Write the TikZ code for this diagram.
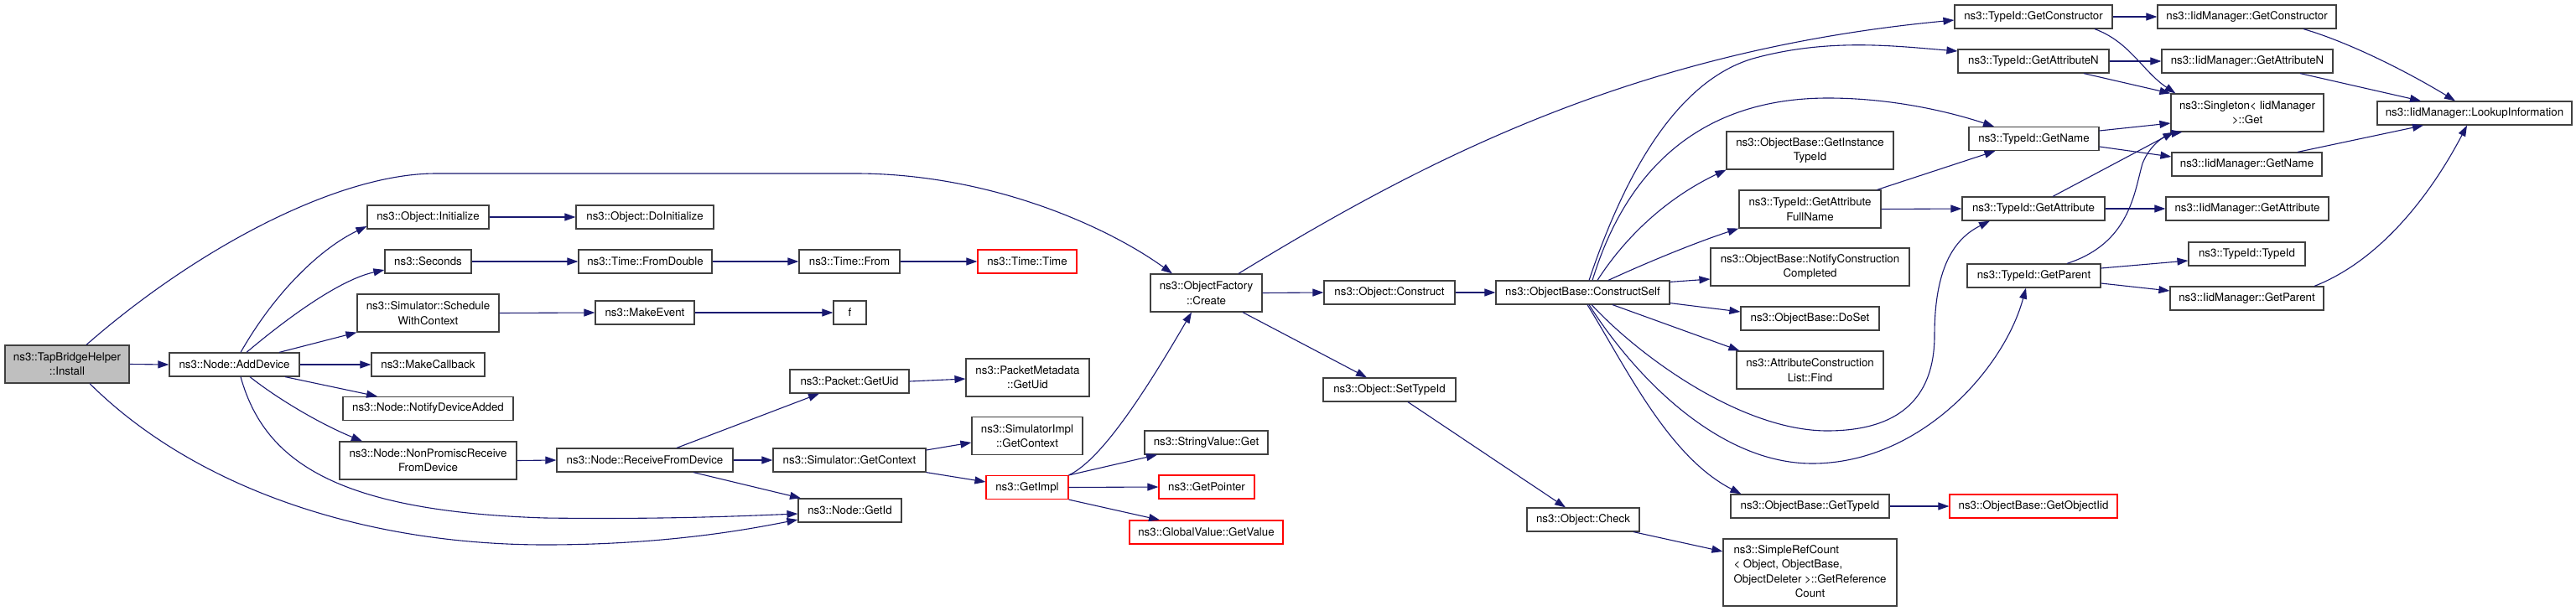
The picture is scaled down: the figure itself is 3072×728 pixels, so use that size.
\documentclass[tikz,border=0pt]{standalone}
\usepackage{fontspec}
\setmainfont{TeX Gyre Heros}
\usetikzlibrary{arrows.meta,calc}
\definecolor{edgeblue}{HTML}{191970}
\definecolor{nodegray}{HTML}{404040}
\definecolor{fillgray}{HTML}{BFBFBF}
\definecolor{trunc}{HTML}{FF0000}
\newcommand\gbox[6]{\node[#1, minimum width=#4, minimum height=#5] (#2) at (#3) {#6};}
\begin{document}
\begin{tikzpicture}[x=1pt,y=-1pt,
  nb/.style={draw=nodegray, line width=1.2pt, fill=white, inner sep=0pt, align=center, font=\fontsize{13.3}{17.3}\selectfont},
  tr/.style={nb, draw=trunc},
  call/.style={draw=edgeblue, line width=1.1pt, -{Triangle[length=13pt,width=9pt]}}]
\useasboundingbox (0,0) rectangle (3072,728);
% nodes
\gbox{nb,fill=fillgray}{install}{80,434.5}{148}{45}{ns3::TapBridgeHelper\\::Install}
\gbox{nb}{adddev}{279.5,435}{155}{28}{ns3::Node::AddDevice}
\gbox{nb}{init}{510.5,259}{145}{28}{ns3::Object::Initialize}
\gbox{nb}{doinit}{769,259}{164}{28}{ns3::Object::DoInitialize}
\gbox{nb}{seconds}{510.5,312}{103}{28}{ns3::Seconds}
\gbox{nb}{fromdouble}{769.5,312}{159}{28}{ns3::Time::FromDouble}
\gbox{nb}{schedctx}{510.5,373.5}{169}{45}{ns3::Simulator::Schedule\\WithContext}
\gbox{nb}{makeevent}{769,373}{118}{28}{ns3::MakeEvent}
\gbox{nb}{makecb}{510.5,435}{135}{28}{ns3::MakeCallback}
\gbox{nb}{notify}{510.5,487.5}{203}{28}{ns3::Node::NotifyDeviceAdded}
\gbox{nb}{nonprom}{510.5,549.5}{211}{45}{ns3::Node::NonPromiscReceive\\FromDevice}
\gbox{nb}{recv}{769,549}{210}{28}{ns3::Node::ReceiveFromDevice}
\gbox{nb}{timefrom}{1013,312}{120}{28}{ns3::Time::From}
\gbox{tr}{timetime}{1225,312}{118}{28}{ns3::Time::Time}
\gbox{nb}{f}{1013.5,373}{39}{28}{f}
\gbox{nb}{pktuid}{1013,455}{142}{28}{ns3::Packet::GetUid}
\gbox{nb}{pmuid}{1225.5,450.5}{147}{45}{ns3::PacketMetadata\\::GetUid}
\gbox{nb}{simimplctx}{1225,520}{132}{45}{ns3::SimulatorImpl\\::GetContext}
\gbox{nb}{simctx}{1013,549}{182}{28}{ns3::Simulator::GetContext}
\gbox{nb}{getid}{1013.5,609}{123}{28}{ns3::Node::GetId}
\gbox{tr}{getimpl}{1225,581.5}{98}{28}{ns3::GetImpl}
\gbox{nb}{strget}{1438.5,528}{147}{28}{ns3::StringValue::Get}
\gbox{tr}{getptr}{1439,581}{114}{28}{ns3::GetPointer}
\gbox{tr}{gvget}{1438.5,635}{183}{28}{ns3::GlobalValue::GetValue}
\gbox{nb}{create}{1438.5,349.5}{133}{45}{ns3::ObjectFactory\\::Create}
\gbox{nb}{construct}{1657,349}{156}{28}{ns3::Object::Construct}
\gbox{nb}{settypeid}{1657,465}{158}{28}{ns3::Object::SetTypeId}
\gbox{nb}{check}{1888,620}{134}{28}{ns3::Object::Check}
\gbox{nb}{cself}{1887.5,349}{207}{28}{ns3::ObjectBase::ConstructSelf}
\gbox{nb}{instid}{2158.5,179.5}{199}{45}{ns3::ObjectBase::GetInstance\\TypeId}
\gbox{nb}{attrfull}{2158.5,249.5}{169}{45}{ns3::TypeId::GetAttribute\\FullName}
\gbox{nb}{notifcc}{2158.5,318.5}{237}{45}{ns3::ObjectBase::NotifyConstruction\\Completed}
\gbox{nb}{doset}{2158.5,380}{165}{28}{ns3::ObjectBase::DoSet}
\gbox{nb}{find}{2158.5,441.5}{175}{45}{ns3::AttributeConstruction\\List::Find}
\gbox{nb}{obgettid}{2158.5,604}{189}{28}{ns3::ObjectBase::GetTypeId}
\gbox{tr}{getoiid}{2425,604}{200}{28}{ns3::ObjectBase::GetObjectIid}
\gbox{nb}{src}{2158.5,683}{207}{80}{\begin{tabular}{@{}l@{}}ns3::SimpleRefCount\\< Object, ObjectBase,\\\multicolumn{1}{@{}c@{}}{ObjectDeleter >::GetReference}\\\multicolumn{1}{@{}c@{}}{Count}\end{tabular}}
\gbox{nb}{tgetctor}{2425,20}{188}{28}{ns3::TypeId::GetConstructor}
\gbox{nb}{igetctor}{2679.5,20}{213}{28}{ns3::IidManager::GetConstructor}
\gbox{nb}{tgetattrn}{2425,73}{180}{28}{ns3::TypeId::GetAttributeN}
\gbox{nb}{igetattrn}{2680,73}{204}{28}{ns3::IidManager::GetAttributeN}
\gbox{nb}{singleton}{2680,134.5}{182}{45}{ns3::Singleton< IidManager\\>::Get}
\gbox{nb}{tgetname}{2425.5,165.5}{155}{28}{ns3::TypeId::GetName}
\gbox{nb}{igetname}{2679.5,196}{179}{28}{ns3::IidManager::GetName}
\gbox{nb}{tgetattr}{2425,249}{170}{28}{ns3::TypeId::GetAttribute}
\gbox{nb}{igetattr}{2680,249}{194}{28}{ns3::IidManager::GetAttribute}
\gbox{nb}{ttypeid}{2679.5,303}{139}{28}{ns3::TypeId::TypeId}
\gbox{nb}{tgetparent}{2425.5,329}{159}{28}{ns3::TypeId::GetParent}
\gbox{nb}{igetparent}{2679.5,356}{183}{28}{ns3::IidManager::GetParent}
\gbox{nb}{lookup}{2951,135}{232}{28}{ns3::IidManager::LookupInformation}
% edges
\draw[call] (install.east) -- (adddev.west);
\draw[call] ($(install.north)+(23,0)$) .. controls (230,300) and (400,207) .. (520,207) -- (1020,207) .. controls (1180,207) and (1320,270) .. ($(create.north)+(-40.5,0)$);
\draw[call] ($(install.south)+(27,0)$) .. controls (230,580) and (430,650) .. (650,650) .. controls (800,650) and (900,630) .. ($(getid.west)+(0,11)$);
\draw[call] ($(adddev.north)+(7.5,0)$) .. controls (330,345) and (385,295) .. ($(init.west)+(0,11)$);
\draw[call] ($(adddev.north)+(14.5,0)$) .. controls (330,390) and (400,335) .. ($(seconds.west)+(0,10)$);
\draw[call] ($(adddev.north)+(53.5,0)$) -- (schedctx.south west);
\draw[call] (adddev.east) -- (makecb.west);
\draw[call] ($(adddev.south)+(60.5,0)$) -- ($(notify.north)+(-60.5,0)$);
\draw[call] ($(adddev.south)+(18.5,0)$) .. controls (330,475) and (380,505) .. ($(nonprom.north)+(-78.5,0)$);
\draw[call] ($(adddev.south)+(7.5,0)$) .. controls (315,550) and (400,610) .. (650,618) .. controls (800,620) and (900,615) .. ($(getid.west)+(0,4)$);
\draw[call] (init.east) -- (doinit.west);
\draw[call] (seconds.east) -- (fromdouble.west);
\draw[call] (fromdouble.east) -- (timefrom.west);
\draw[call] (timefrom.east) -- (timetime.west);
\draw[call] (schedctx.east) -- (makeevent.west);
\draw[call] (makeevent.east) -- (f.west);
\draw[call] (nonprom.east) -- (recv.west);
\draw[call] ($(recv.north)+(38,0)$) -- ($(pktuid.south)+(-36,0)$);
\draw[call] (recv.east) -- (simctx.west);
\draw[call] ($(recv.south)+(58,0)$) -- ($(getid.north)+(-58.5,0)$);
\draw[call] (pktuid.east) -- ($(pmuid.west)+(0,1.5)$);
\draw[call] ($(simctx.east)+(0,-12)$) -- ($(simimplctx.west)+(0,8)$);
\draw[call] (simctx.south east) -- ($(getimpl.west)+(0,-6.5)$);
\draw[call] (getimpl.north east) .. controls (1315,548) and (1370,460) .. ($(create.south)+(-17.5,0)$);
\draw[call] (getimpl.north east) -- ($(strget.south)+(-58.5,0)$);
\draw[call] (getimpl.east) -- (getptr.west);
\draw[call] (getimpl.south east) -- ($(gvget.north)+(-55.5,0)$);
\draw[call] (create.east) -- (construct.west);
\draw[call] ($(create.south)+(43.5,0)$) -- ($(settypeid.north)+(-27,0)$);
\draw[call] ($(create.north)+(38.5,0)$) .. controls (1700,190) and (1950,60) .. ($(tgetctor.west)+(0,4)$);
\draw[call] (construct.east) -- (cself.west);
\draw[call] ($(settypeid.south)+(22,0)$) -- ($(check.north)+(-21,0)$);
\draw[call] ($(check.south)+(60,0)$) -- ($(src.west)+(0,-25)$);
\draw[call] ($(cself.north)+(7.5,0)$) .. controls (1930,230) and (1990,100) .. (2090,70) .. controls (2180,45) and (2260,55) .. ($(tgetattrn.west)+(0,-12)$);
\draw[call] ($(cself.north)+(11.5,0)$) .. controls (1940,200) and (2030,117) .. (2180,117) .. controls (2260,117) and (2330,135) .. ($(tgetname.north)+(-47.5,0)$);
\draw[call] ($(cself.north)+(17.5,0)$) .. controls (1940,280) and (1990,235) .. (instid.south west);
\draw[call] ($(cself.north)+(30.5,0)$) .. controls (1960,315) and (2020,290) .. (attrfull.south west);
\draw[call] ($(cself.north east)+(0,2)$) -- ($(notifcc.west)+(0,14.5)$);
\draw[call] ($(cself.south east)+(0,-2)$) -- ($(doset.west)+(0,-8)$);
\draw[call] ($(cself.south)+(35.5,0)$) -- ($(find.north west)+(4,0)$);
\draw[call] ($(cself.south)+(5.5,0)$) .. controls (1940,440) and (1990,545) .. ($(obgettid.north west)+(13,0)$);
\draw[call] ($(cself.south)+(10.5,0)$) .. controls (1960,430) and (2080,514) .. (2179,514) .. controls (2280,514) and (2307,460) .. (2307,400) .. controls (2307,320) and (2330,285) .. ($(tgetattr.south)+(-52,0)$);
\draw[call] ($(cself.south)+(7.5,0)$) .. controls (1950,450) and (2050,553) .. (2161,553) .. controls (2290,553) and (2390,440) .. ($(tgetparent.south)+(-9.5,0)$);
\draw[call] ($(attrfull.north)+(80,0)$) -- ($(tgetname.south)+(-46,0)$);
\draw[call] (attrfull.east) -- (tgetattr.west);
\draw[call] (tgetctor.east) -- (igetctor.west);
\draw[call] ($(tgetctor.south)+(73,0)$) .. controls (2540,50) and (2555,85) .. ($(singleton.north west)+(6,0)$);
\draw[call] (tgetattrn.east) -- (igetattrn.west);
\draw[call] ($(tgetattrn.south)+(60,0)$) -- (singleton.north west);
\draw[call] ($(tgetname.east)+(0,-9.5)$) -- ($(singleton.west)+(0,12.5)$);
\draw[call] ($(tgetname.east)+(0,9.5)$) -- ($(igetname.west)+(0,-9)$);
\draw[call] ($(tgetattr.north)+(23,0)$) -- ($(singleton.south west)+(4,0)$);
\draw[call] (tgetattr.east) -- (igetattr.west);
\draw[call] ($(tgetparent.north)+(39.5,0)$) .. controls (2540,290) and (2545,230) .. (2555,195) .. controls (2565,170) and (2585,160) .. ($(singleton.south west)+(14,0)$);
\draw[call] ($(tgetparent.east)+(0,-9)$) -- ($(ttypeid.west)+(0,8)$);
\draw[call] ($(tgetparent.east)+(0,9)$) -- ($(igetparent.west)+(0,-9)$);
\draw[call] ($(igetctor.south)+(67.5,0)$) .. controls (2800,50) and (2870,85) .. ($(lookup.north)+(-23,0)$);
\draw[call] ($(igetattrn.south)+(63,0)$) -- ($(lookup.north)+(-64,0)$);
\draw[call] ($(igetname.north)+(60.5,0)$) -- ($(lookup.south)+(-61,0)$);
\draw[call] ($(igetparent.north)+(80.5,0)$) .. controls (2840,310) and (2900,230) .. ($(lookup.south)+(-9,0)$);
\draw[call] (obgettid.east) -- (getoiid.west);
\end{tikzpicture}
\end{document}
